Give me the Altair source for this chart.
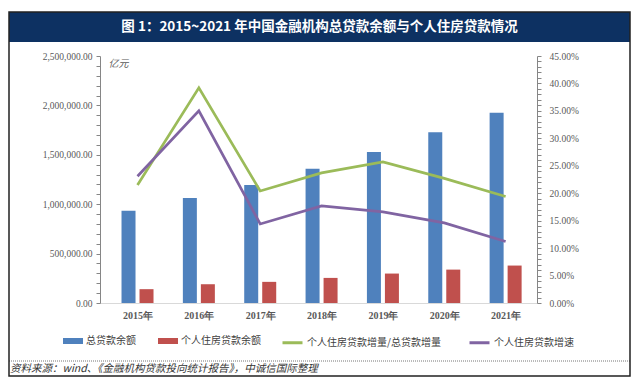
import altair as alt
import pandas as pd

# ---------------- data ----------------
years = [2015, 2016, 2017, 2018, 2019, 2020, 2021]
total_loans = [934000, 1063000, 1194000, 1359000, 1528000, 1727000, 1926000]      # 亿元
housing_loans = [140000, 190000, 214000, 254000, 298000, 338000, 379000]         # 亿元
ratio_increment = [0.215, 0.392, 0.204, 0.237, 0.257, 0.227, 0.194]              # 个人住房贷款增量/总贷款增量
housing_growth = [0.231, 0.350, 0.144, 0.177, 0.166, 0.146, 0.112]               # 个人住房贷款增速

bar_names = ["总贷款余额", "个人住房贷款余额"]
line_names = ["个人住房贷款增量/总贷款增量", "个人住房贷款增速"]
bar_colors = ["#4f81bd", "#c0504d"]
line_colors = ["#9bbb59", "#8064a2"]

title_text = "图 1：2015~2021 年中国金融机构总贷款余额与个人住房贷款情况"
source_text = "资料来源：wind、《金融机构贷款投向统计报告》，中诚信国际整理"

left_ticks = list(range(0, 2500001, 100000))
right_ticks = [i / 100 for i in range(0, 46)]

W, H = 437, 247

bars_df = pd.DataFrame({
    "year": years * 2,
    "series": [bar_names[0]] * len(years) + [bar_names[1]] * len(years),
    "value": total_loans + housing_loans,
})
lines_df = pd.DataFrame({
    "year": years * 2,
    "series": [line_names[0]] * len(years) + [line_names[1]] * len(years),
    "value": ratio_increment + housing_growth,
})

SERIF = "Liberation Serif"
CJK = "Noto Sans CJK SC"
GREY = "#595959"

x_enc = alt.X(
    "year:Q",
    scale=alt.Scale(domain=[2014.47, 2021.43], nice=False, zero=False),
    axis=alt.Axis(values=years, labelExpr="datum.value + '年'", ticks=False, grid=False,
                  domainColor="#d9d9d9", labelFont=SERIF, labelFontSize=10,
                  labelFontWeight="bold", labelColor=GREY, labelPadding=7,
                  labelFlush=False, labelOverlap=False, title=None),
)

left_axis = alt.Axis(
    values=left_ticks,
    labelExpr="datum.value % 500000 == 0 ? format(datum.value, ',.2f') : ''",
    labelOverlap=False, labelFlush=False, grid=False, tickSize=4,
    tickColor="#868686", domainColor="#868686", labelFont=SERIF, labelFontSize=9.5,
    labelColor=GREY, labelPadding=4,
    title="亿元", titleAngle=0, titleX=8, titleY=7, titleAlign="left",
    titleBaseline="middle", titleFontStyle="italic", titleFontWeight="normal",
    titleFont=CJK, titleFontSize=10, titleColor=GREY,
)
right_axis = alt.Axis(
    orient="right", values=right_ticks,
    labelExpr="round(datum.value * 100) % 5 == 0 ? format(datum.value, '.2%') : ''",
    labelOverlap=False, labelFlush=False, grid=False, tickSize=4,
    tickColor="#868686", domainColor="#868686", labelFont=SERIF, labelFontSize=9.5,
    labelColor=GREY, labelPadding=8, title=None,
)

y_left = alt.Y("value:Q", scale=alt.Scale(domain=[0, 2500000], nice=False), axis=left_axis)

color_enc = alt.Color(
    "series:N",
    scale=alt.Scale(domain=bar_names, range=bar_colors),
    legend=alt.Legend(orient="none", legendX=-37, legendY=275, direction="horizontal",
                      title=None, symbolType="M-1,-0.3H1V0.3H-1Z", symbolSize=400,
                      symbolStrokeWidth=0, labelFont=CJK, labelFontSize=10,
                      labelColor="#404040", labelOffset=3, columnPadding=22, padding=0),
)

bar_total = alt.Chart(bars_df).transform_filter(
    alt.datum.series == bar_names[0]
).mark_bar(width=14, xOffset=-9).encode(x=x_enc, y=y_left, color=color_enc)

bar_house = alt.Chart(bars_df).transform_filter(
    alt.datum.series == bar_names[1]
).mark_bar(width=14, xOffset=9).encode(x=x_enc, y=y_left, color=color_enc)

bars = alt.layer(bar_total, bar_house)

lines = alt.Chart(lines_df).mark_line(strokeWidth=2.7).encode(
    x=x_enc,
    y=alt.Y("value:Q", scale=alt.Scale(domain=[0, 0.45], nice=False), axis=right_axis),
    stroke=alt.Stroke(
        "series:N",
        scale=alt.Scale(domain=line_names, range=line_colors),
        legend=alt.Legend(orient="none", legendX=181, legendY=275, direction="horizontal",
                          title=None, symbolType="stroke", symbolSize=400,
                          symbolStrokeWidth=3, labelFont=CJK, labelFontSize=10,
                          labelColor="#404040", labelOffset=3, columnPadding=22, padding=0),
    ),
    detail="series:N",
)

one = pd.DataFrame({"t": [title_text], "s": [source_text]})

frame = alt.Chart(one).mark_rect(fillOpacity=0, stroke="#222222", strokeWidth=1.5).encode(
    x=alt.value(-91), x2=alt.value(530), y=alt.value(-44), y2=alt.value(320)
)
title_bar = alt.Chart(one).mark_rect(fill="#0d3162").encode(
    x=alt.value(-91), x2=alt.value(530), y=alt.value(-44), y2=alt.value(-14)
)
title_mark = alt.Chart(one).mark_text(
    color="white", font=CJK, fontSize=13.5, fontWeight="bold", align="center", baseline="middle"
).encode(text="t:N", x=alt.value(219.5), y=alt.value(-29))

dotted = alt.Chart(one).mark_rule(stroke="#777777", strokeDash=[1, 1], strokeWidth=1).encode(
    x=alt.value(-91), x2=alt.value(530), y=alt.value(305)
)
source_mark = alt.Chart(one).mark_text(
    color="#333333", font=CJK, fontSize=10.5, fontStyle="italic", align="left", baseline="middle"
).encode(text="s:N", x=alt.value(-90), y=alt.value(313))

chart = alt.layer(
    title_bar, title_mark, bars, lines, dotted, source_mark, frame
).resolve_scale(
    y="independent"
).properties(
    width=W, height=H,
    autosize=alt.AutoSizeParams(type="none"),
    padding={"left": 92, "top": 48, "right": 94, "bottom": 74},
    background="white",
).configure_view(stroke=None)

chart.save("out.html", embed_options={"renderer": "svg", "actions": False})
